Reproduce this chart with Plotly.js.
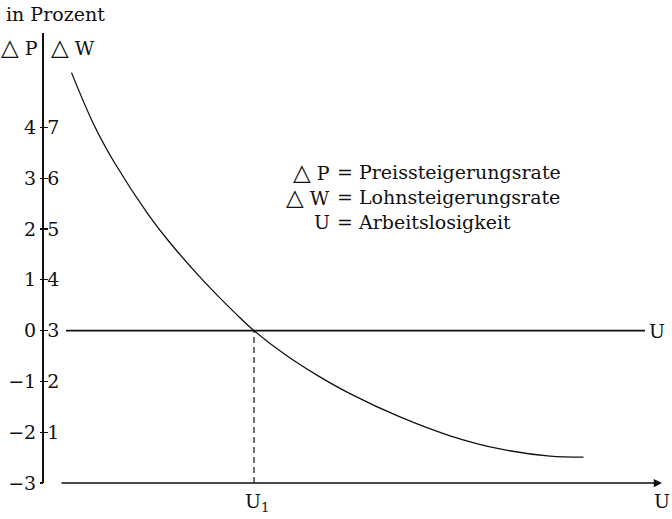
<!DOCTYPE html>
<html>
<head>
<meta charset="utf-8">
<script src="https://cdn.plot.ly/plotly-3.0.1.min.js"></script>
<style>
  html, body { margin: 0; padding: 0; background: #fff; }
  #chart { width: 672px; height: 519px; }
</style>
</head>
<body>
<div id="chart"></div>
<script>
// ── Data ──────────────────────────────────────────────────────────────────────
// ΔW scale (right numbers) runs 0..7, ΔP scale (left numbers) is ΔW − 3
const wTicks = [0, 1, 2, 3, 4, 5, 6, 7];
const pTicks = [-3, -2, -1, 0, 1, 2, 3, 4];
const pTickText = ['\u22123', '\u22122', '\u22121', '0', '1', '2', '3', '4'];

// Phillips curve (U in arbitrary units, ΔW in %)
const curveU = [0.55, 0.99, 1.42, 2.09, 2.52, 3.19, 3.85, 4.2, 4.85, 5.45, 6.12, 7.12, 8.12, 9.12, 10.12, 10.79];
const curveW = [8.08, 7.07, 6.29, 5.28, 4.73, 3.98, 3.32, 3.0, 2.51, 2.13, 1.76, 1.30, 0.93, 0.67, 0.53, 0.51];

const u1 = 4.2;          // U₁, where ΔP = 0
const wAtU1 = 3;         // ΔW at U₁
const zeroLineU = [0.44, 12.02];   // extent of the ΔP = 0 line
const uAxisEnd = 12.36;  // arrow tip of the U axis
const uAxisStart = 0.32;

const TRI = '<span style="font-size:23px">\u25B3</span>';
const legendLeft = [TRI + ' P', TRI + ' W', 'U'];
const legendRight = ['= Preissteigerungsrate', '= Lohnsteigerungsrate', '= Arbeitslosigkeit'];

// ── Layout helpers ────────────────────────────────────────────────────────────
const FONT = '"DejaVu Serif", "Liberation Serif", serif';
const FS = 19;
const W_MAX = 8.86;

const PL = 44, PR = 8, PT = 33, PB = 36;
const pw = 672 - PL - PR, ph = 519 - PT - PB;
// pixel position -> paper fraction
function px(x) { return (x - PL) / pw; }
function py(y) { return (519 - PB - y) / ph; }
function txt(size) { return { family: FONT, size: size || FS, color: '#111' }; }

const traces = [
  {
    x: curveU, y: curveW, type: 'scatter', mode: 'lines',
    line: { color: '#111', width: 1.3, shape: 'spline', smoothing: 1 },
    hoverinfo: 'skip',
  },
  {
    x: zeroLineU, y: [0, 0], yaxis: 'y2', type: 'scatter', mode: 'lines',
    line: { color: '#111', width: 1.6 },
    hoverinfo: 'skip',
  },
  {
    x: [u1, u1], y: [0, wAtU1], type: 'scatter', mode: 'lines',
    line: { color: '#111', width: 1.2, dash: '6px,4px' },
    hoverinfo: 'skip',
  },
];

const annotations = [
  // U axis with arrow
  {
    x: uAxisEnd, y: 0, ax: uAxisStart, ay: 0, xref: 'x', yref: 'y', axref: 'x', ayref: 'y',
    text: '', showarrow: true, arrowhead: 2, arrowsize: 1.1, arrowwidth: 1.5, arrowcolor: '#111',
  },
  { x: uAxisEnd, y: 0, xref: 'x', yref: 'y', text: 'U', showarrow: false,
    xanchor: 'center', yanchor: 'top', yshift: -5, font: txt() },
  { x: zeroLineU[1], y: 0, xref: 'x', yref: 'y2', text: 'U', showarrow: false,
    xanchor: 'left', yanchor: 'middle', xshift: 2, font: txt() },
  { x: u1, y: 0, xref: 'x', yref: 'y', text: 'U<sub>1</sub>', showarrow: false,
    xanchor: 'center', yanchor: 'top', yshift: -5, xshift: 3, font: txt() },
  // headings
  { x: px(4), y: py(14), xref: 'paper', yref: 'paper', text: 'in Prozent', showarrow: false,
    xanchor: 'left', yanchor: 'middle', font: txt() },
  { x: px(40), y: py(47), xref: 'paper', yref: 'paper', text: TRI + ' P', showarrow: false,
    xanchor: 'right', yanchor: 'middle', font: txt() },
  { x: px(49), y: py(47), xref: 'paper', yref: 'paper', text: TRI + ' W', showarrow: false,
    xanchor: 'left', yanchor: 'middle', font: txt() },
];

// legend block, aligned on the "=" signs
const legendY = [172, 197, 222];
legendLeft.forEach((t, i) => {
  annotations.push({ x: px(332), y: py(legendY[i]), xref: 'paper', yref: 'paper', text: t,
    showarrow: false, xanchor: 'right', yanchor: 'middle', font: txt() });
  annotations.push({ x: px(335), y: py(legendY[i]), xref: 'paper', yref: 'paper', text: legendRight[i],
    showarrow: false, xanchor: 'left', yanchor: 'middle', font: txt() });
});

const layout = {
  width: 672, height: 519,
  paper_bgcolor: '#fff', plot_bgcolor: '#fff',
  font: txt(),
  margin: { l: PL, r: PR, t: PT, b: PB },
  showlegend: false,
  xaxis: {
    range: [0, pw / 50], showgrid: false, zeroline: false, showline: false,
    showticklabels: false, ticks: '', fixedrange: true,
  },
  yaxis: {
    range: [0, W_MAX], showgrid: false, zeroline: false,
    showline: true, linecolor: '#111', linewidth: 1.6,
    tickvals: wTicks, ticktext: wTicks.map(String),
    ticks: 'inside', ticklen: 4, tickwidth: 1.3, tickcolor: '#111',
    ticklabelposition: 'inside', ticklabelstandoff: 0,
    tickfont: txt(),
  },
  yaxis2: {
    overlaying: 'y', side: 'left', anchor: 'x',
    range: [-3, W_MAX - 3], showgrid: false, zeroline: false, showline: false,
    tickvals: pTicks, ticktext: pTickText,
    ticks: 'outside', ticklen: 3, tickwidth: 1.3, tickcolor: '#111',
    ticklabelstandoff: 0,
    tickfont: txt(),
  },
  annotations: annotations,
};

Plotly.newPlot('chart', traces, layout, { displayModeBar: false, staticPlot: true });
</script>
</body>
</html>
